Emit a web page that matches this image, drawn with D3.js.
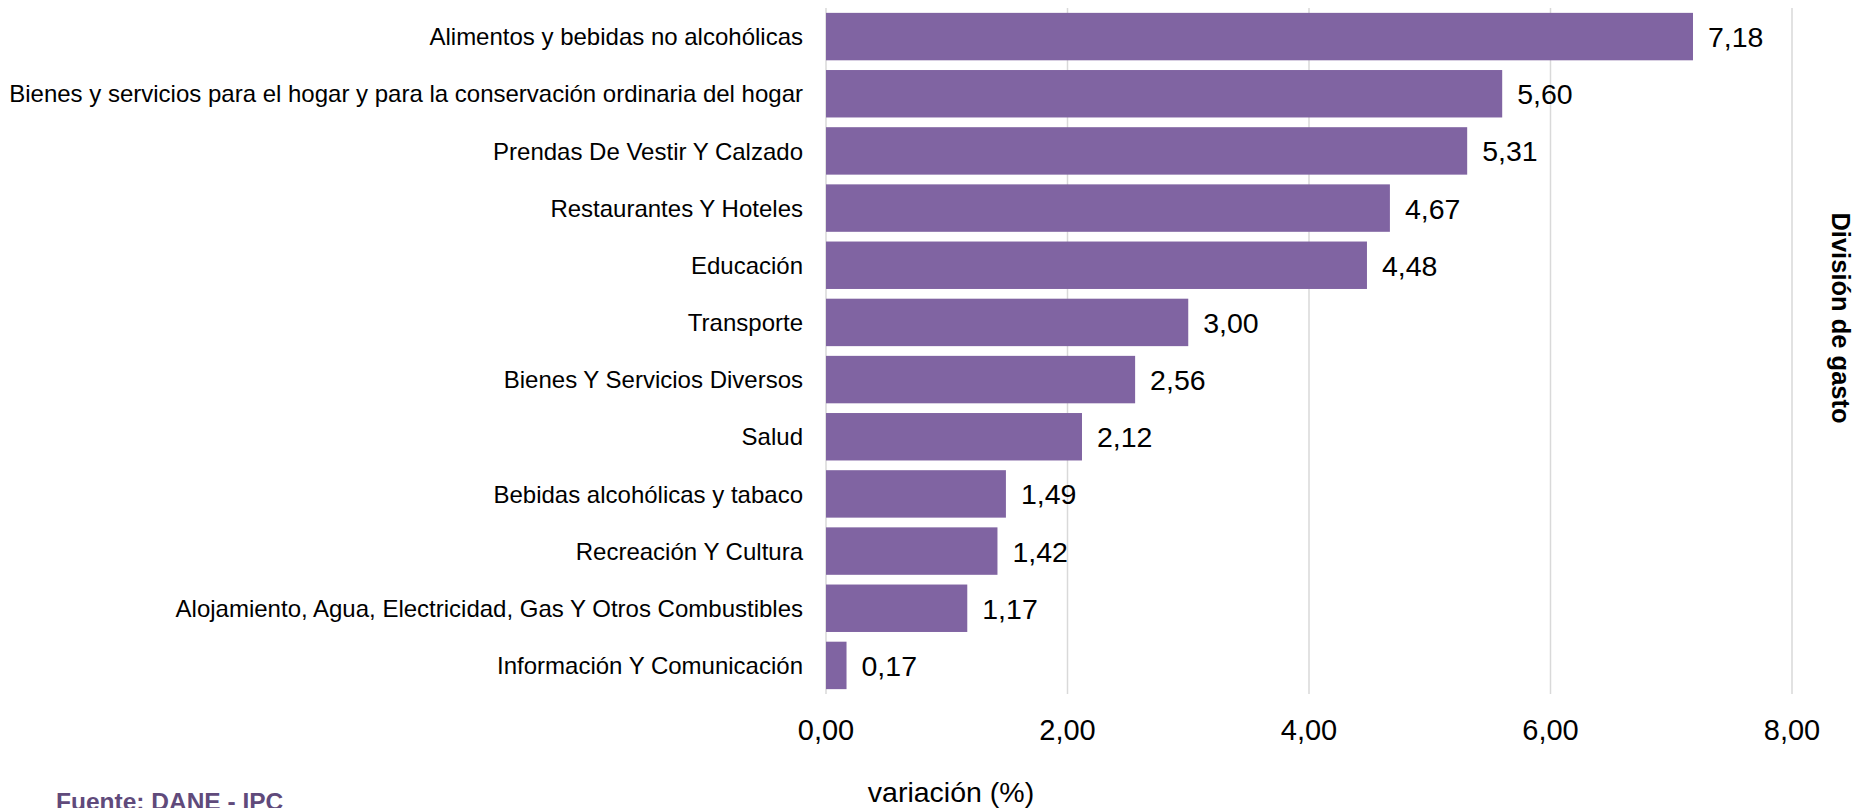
<!DOCTYPE html>
<html>
<head>
<meta charset="utf-8">
<script src="https://cdn.jsdelivr.net/npm/d3@7"></script>
<style>
  body { margin: 0; background: #fff; }
  svg { display: block; font-family: "Liberation Sans", Arial, sans-serif; }
</style>
</head>
<body>
<div id="chart"></div>
<script>
// Data
  var categories = [
    'Alimentos y bebidas no alcohólicas',
    'Bienes y servicios para el hogar y para la conservación ordinaria del hogar',
    'Prendas De Vestir Y Calzado',
    'Restaurantes Y Hoteles',
    'Educación',
    'Transporte',
    'Bienes Y Servicios Diversos',
    'Salud',
    'Bebidas alcohólicas y tabaco',
    'Recreación Y Cultura',
    'Alojamiento, Agua, Electricidad, Gas Y Otros Combustibles',
    'Información Y Comunicación'
  ];
  var values = [7.18, 5.60, 5.31, 4.67, 4.48, 3.00, 2.56, 2.12, 1.49, 1.42, 1.17, 0.17];
  var xTicks = [0, 2, 4, 6, 8];

// Create the document structure
  var width = 1860, height = 808;
  var svg = d3.select('#chart').append('svg')
    .attr('width', width)
    .attr('height', height);

  var es = d3.formatLocale({decimal: ',', thousands: '.', grouping: [3], currency: ['$', '']});
  var fmt = es.format('.2f');

  var x = d3.scaleLinear().domain([0, 8]).range([826, 1792]);
  var y = d3.scaleBand().domain(categories).range([8, 694])
    .paddingInner(0.17)
    .paddingOuter(0.085);

// Gridlines
  svg.append('g').selectAll('line')
  .data(xTicks)
  .join('line')
    .attr('x1', d => x(d))
    .attr('x2', d => x(d))
    .attr('y1', 8)
    .attr('y2', 694)
    .attr('stroke', '#d9d9d9')
    .attr('stroke-width', 1.5);

// Bars
  svg.append('g').selectAll('rect')
  .data(values)
  .join('rect')
    .attr('x', x(0))
    .attr('y', (d, i) => y(categories[i]))
    .attr('width', d => x(d) - x(0))
    .attr('height', y.bandwidth())
    .attr('fill', '#8064a2');

// Value labels
  svg.append('g').selectAll('text')
  .data(values)
  .join('text')
    .attr('x', d => x(d) + 15)
    .attr('y', (d, i) => y(categories[i]) + y.bandwidth() / 2)
    .attr('dy', '0.37em')
    .attr('font-size', 28.5)
    .attr('fill', '#000')
    .text(d => fmt(d));

// Category labels
  svg.append('g').selectAll('text')
  .data(categories)
  .join('text')
    .attr('x', 803)
    .attr('y', d => y(d) + y.bandwidth() / 2)
    .attr('dy', '0.36em')
    .attr('text-anchor', 'end')
    .attr('font-size', 24)
    .attr('fill', '#000')
    .text(d => d);

// X tick labels
  svg.append('g').selectAll('text')
  .data(xTicks)
  .join('text')
    .attr('x', d => x(d))
    .attr('y', 740)
    .attr('text-anchor', 'middle')
    .attr('font-size', 29)
    .attr('fill', '#000')
    .text(d => fmt(d));

// Axis titles and source
  svg.append('text')
    .attr('x', 951)
    .attr('y', 802)
    .attr('text-anchor', 'middle')
    .attr('font-size', 28.5)
    .attr('fill', '#000')
    .text('variación (%)');

  svg.append('text')
    .attr('transform', 'translate(1832,318) rotate(90)')
    .attr('text-anchor', 'middle')
    .attr('font-size', 25.5)
    .attr('font-weight', 'bold')
    .attr('fill', '#000')
    .text('División de gasto');

  svg.append('text')
    .attr('x', 56)
    .attr('y', 810)
    .attr('font-size', 24.5)
    .attr('font-weight', 'bold')
    .attr('fill', '#604a7b')
    .text('Fuente: DANE - IPC');
</script>
</body>
</html>
